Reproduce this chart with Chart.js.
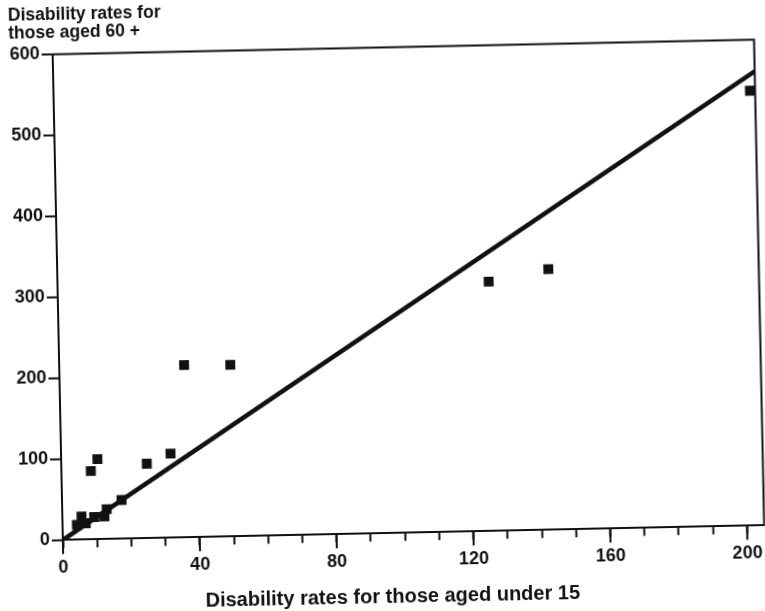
<!DOCTYPE html>
<html><head><meta charset="utf-8">
<script src="https://cdn.jsdelivr.net/npm/chart.js@4.4.1/dist/chart.umd.min.js"></script>
<style>
html,body{margin:0;padding:0;background:#fff;overflow:hidden;width:765px;height:611px;}
#wrap{position:absolute;left:-20px;top:-20px;width:805px;height:651px;transform-origin:402.5px 325.5px;transform:rotate(-1.2deg);background:#fff;}
canvas{display:block;width:805px;height:651px;}
</style></head><body>
<div id="wrap"><canvas id="c" width="805" height="651"></canvas></div>
<script>
// Disability rates — each point one country
const under15 = [203.5, 126, 143.5, 36.5, 50, 32, 25, 17.4, 10.6, 8.6, 13, 12.3, 9.3, 5.6, 4.2, 6.8];
const aged60  = [537,   308, 322,   213, 212, 104, 92, 48,  99,   84.5, 37, 28,  27.5, 28.5, 18.3, 20.2];
const fitX = [0, 205];
const fitY = [0, 561];
const xLabelTicks = [0, 40, 80, 120, 160, 200];
const yTickValues = [0, 100, 200, 300, 400, 500, 600];
const titleLines = ['Disability rates for', 'those aged 60 +'];
const xTitle = 'Disability rates for those aged under 15';

const INK = '#111';
Chart.defaults.font.family = '"Liberation Sans", Arial, Helvetica, sans-serif';
Chart.defaults.font.weight = 'bold';
Chart.defaults.color = INK;

const framePlugin = {
  id: 'frame',
  afterDraw(chart) {
    const ctx = chart.ctx, a = chart.chartArea, sx = chart.scales.x;
    ctx.save();
    ctx.strokeStyle = INK;
    ctx.lineWidth = 2;
    ctx.beginPath();
    ctx.moveTo(a.left - 1, a.top);
    ctx.lineTo(a.right, a.top);
    ctx.lineTo(a.right, a.bottom);
    ctx.stroke();
    xLabelTicks.forEach(v => {
      const p = sx.getPixelForValue(v);
      ctx.beginPath();
      ctx.moveTo(p, a.bottom);
      ctx.lineTo(p, a.bottom + 14);
      ctx.stroke();
    });
    ctx.restore();
  }
};

new Chart(document.getElementById('c'), {
  type: 'scatter',
  data: {
    datasets: [
      {
        data: under15.map((x, i) => ({x, y: aged60[i]})),
        pointStyle: 'rect',
        pointRadius: 7,
        pointBorderWidth: 0,
        backgroundColor: INK,
        borderColor: INK,
        showLine: false
      },
      {
        data: fitX.map((x, i) => ({x, y: fitY[i]})),
        showLine: true,
        pointRadius: 0,
        borderColor: INK,
        borderWidth: 4.5
      }
    ]
  },
  options: {
    responsive: false,
    animation: false,
    devicePixelRatio: 1,
    layout: { padding: { left: 34, right: 25.5, top: 0, bottom: 0 } },
    plugins: {
      legend: { display: false },
      tooltip: { enabled: false },
      title: {
        display: true,
        text: titleLines,
        align: 'start',
        color: INK,
        font: { size: 17.5, weight: 'bold', lineHeight: '18.6px' },
        padding: { top: 18.5, bottom: 11.8 }
      },
      subtitle: {
        display: true,
        position: 'bottom',
        text: xTitle,
        color: INK,
        font: { size: 20, weight: 'bold', lineHeight: 1.2 },
        padding: { top: 11.8, bottom: 21.9 }
      }
    },
    scales: {
      x: {
        type: 'linear',
        min: 0,
        max: 205,
        afterFit(s) { s.height = 40; },
        border: { display: true, color: INK, width: 2 },
        grid: { drawOnChartArea: false, tickLength: 8, tickWidth: 2, tickColor: INK },
        ticks: {
          stepSize: 10,
          includeBounds: false,
          autoSkip: false,
          maxRotation: 0,
          padding: 9.4,
          color: INK,
          font: { size: 18, weight: 'bold' },
          callback: v => xLabelTicks.includes(v) ? String(v) : ''
        }
      },
      y: {
        type: 'linear',
        min: 0,
        max: 600,
        afterFit(s) { s.width = 44; },
        border: { display: true, color: INK, width: 2 },
        grid: { drawOnChartArea: false, tickLength: 11, tickWidth: 2, tickColor: INK },
        ticks: {
          stepSize: 100,
          padding: 2,
          color: INK,
          font: { size: 18, weight: 'bold' },
          callback: v => yTickValues.includes(v) ? String(v) : ''
        }
      }
    }
  },
  plugins: [framePlugin]
});
</script>
</body></html>
